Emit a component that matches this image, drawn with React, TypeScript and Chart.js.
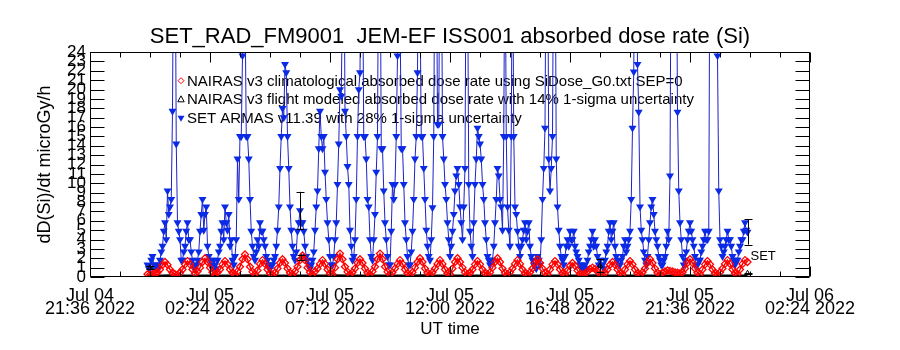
import React, { useEffect, useRef } from 'react';
import { Chart, registerables } from 'chart.js';

Chart.register(...registerables);

const FONT = '"Liberation Sans", Arial, sans-serif';

const TITLE = 'SET_RAD_FM9001  JEM-EF ISS001 absorbed dose rate (Si)';
const X_TITLE = 'UT time';
const Y_TITLE = 'dD(Si)/dt microGy/h';
const LEGEND_LABELS = [
  'NAIRAS v3 climatological absorbed dose rate using SiDose_G0.txt SEP=0',
  'NAIRAS v3 flight modeled absorbed dose rate with 14% 1-sigma uncertainty',
  'SET ARMAS v11.39 with 28% 1-sigma uncertainty',
];
const END_LABEL = 'SET';

// x values: hours since 2022-07-04 00:00 UT
const X_MIN = 21.6;
const X_MAX = 50.4;
const tickHours = [21.6, 26.4, 31.2, 36.0, 40.8, 45.6, 50.4];
const tickDates = ['Jul 04', 'Jul 05', 'Jul 05', 'Jul 05', 'Jul 05', 'Jul 05', 'Jul 06'];
const tickTimes = ['21:36 2022', '02:24 2022', '07:12 2022', '12:00 2022', '16:48 2022', '21:36 2022', '02:24 2022'];
const Y_MIN = 0;
const Y_MAX = 24;

// SET ARMAS v11.39 (microGy/h), 3-minute samples
const armasStartH = 23.9;
const armasStepH = 0.05;
const armasVals = [
  1.3, 0.9, 0.9, 1.8, 2.2, 1.3, 1.3, 0.9, 0.9, 1.3, 1.8, 2.7, 3.3, 4.9, 5.8, 4.0, 9.2, 6.7, 7.5, 8.3,
  17.7, 40, 40, 14.2, 5.8, 4.9, 4.0, 1.8, 1.8, 2.7, 3.3, 4.9, 5.8, 4.0, 4.0, 2.7, 1.8, 1.3, 0.9, 1.3,
  1.8, 2.7, 4.9, 6.7, 8.3, 5.0, 6.7, 7.5, 3.3, 2.2, 1.8, 1.3, 0.9, 1.8, 1.3, 0.9, 1.8, 2.7, 3.3, 4.9,
  5.8, 4.0, 7.5, 5.8, 5.0, 6.7, 3.3, 4.0, 1.8, 1.3, 2.2, 4.0, 12.6, 8.3, 15.0, 15.0, 23.6, 40, 30, 15.0,
  15.0, 12.6, 8.3, 4.9, 3.3, 2.2, 1.8, 2.7, 4.0, 3.3, 5.8, 4.9, 4.9, 4.0, 3.3, 2.2, 1.8, 1.3, 0.9, 1.3,
  1.3, 1.8, 2.2, 3.3, 5.0, 7.5, 11.6, 15.0, 18.0, 17.0, 22.7, 21.8, 15.0, 11.6, 7.5, 5.0, 3.3, 2.2, 1.8, 2.7,
  4.9, 5.8, 7.1, 5.8, 5.8, 4.9, 3.3, 2.2, 1.8, 1.3, 0.9, 1.3, 1.8, 2.7, 5.0, 7.5, 9.2, 13.7, 17.7, 15.0,
  13.7, 15.0, 11.2, 8.3, 5.8, 4.0, 2.2, 1.3, 1.3, 2.2, 4.0, 5.8, 9.9, 14.2, 20.0, 19.3, 30, 40, 17.7, 15.0,
  11.8, 9.9, 5.0, 3.3, 1.8, 2.2, 4.0, 8.3, 15.0, 20.0, 21.8, 40, 35, 15.0, 15.0, 12.6, 8.3, 7.5, 4.0, 2.2,
  1.8, 4.0, 6.7, 11.2, 15.0, 40, 40, 13.7, 13.7, 9.2, 5.8, 4.0, 2.2, 1.3, 1.3, 4.9, 9.9, 8.3, 9.9, 15.0,
  23.6, 40, 30, 13.7, 13.7, 9.9, 5.8, 4.0, 2.2, 1.3, 1.3, 2.7, 4.9, 8.3, 12.6, 15.0, 21.8, 40, 30, 15.0,
  15.0, 11.6, 8.3, 5.0, 3.3, 2.2, 1.8, 4.0, 7.4, 15.0, 40, 40, 16.3, 16.3, 40, 40, 15.0, 12.6, 9.9, 8.3,
  5.8, 4.0, 2.2, 3.3, 4.9, 6.7, 9.2, 10.8, 11.6, 9.9, 7.5, 5.8, 4.0, 7.5, 11.6, 40, 35, 9.9, 4.9, 3.3,
  2.2, 5.8, 9.9, 12.6, 15.9, 15.0, 14.2, 12.6, 9.9, 8.3, 5.8, 4.0, 2.2, 1.8, 1.3, 1.8, 1.8, 3.3, 5.8, 8.3,
  11.6, 10.8, 8.3, 7.5, 5.0, 15.0, 40, 15.0, 7.5, 5.0, 3.3, 15.0, 40, 15.0, 7.5, 6.7, 4.9, 3.3, 2.2, 3.3,
  4.0, 5.0, 5.8, 4.0, 4.9, 5.8, 3.3, 2.2, 1.8, 1.3, 1.3, 0.9, 2.2, 1.8, 1.3, 4.0, 8.3, 11.6, 15.9, 40,
  40, 12.6, 9.2, 11.6, 15.0, 40, 40, 12.6, 7.5, 5.0, 3.3, 2.2, 1.8, 1.3, 2.2, 3.3, 4.0, 3.3, 4.9, 4.0,
  4.0, 4.9, 3.3, 2.7, 2.2, 1.8, 1.3, 0.9, 0.9, 1.3, 1.3, 0.9, 1.8, 2.7, 3.3, 4.0, 4.9, 3.3, 4.0, 3.3,
  2.2, 1.3, 1.8, 1.3, 1.3, 0.9, 1.8, 2.7, 3.3, 4.9, 5.8, 4.0, 4.9, 5.8, 3.3, 2.2, 1.8, 1.3, 1.3, 1.8,
  2.2, 3.3, 4.0, 2.7, 3.3, 4.0, 4.9, 8.3, 15.9, 21.9, 40, 40, 22.7, 17.6, 7.5, 5.0, 4.0, 2.7, 1.8, 1.3,
  2.2, 4.0, 5.8, 7.5, 8.3, 6.7, 4.9, 4.0, 3.3, 2.2, 1.8, 1.3, 1.3, 1.8, 2.2, 3.3, 4.9, 4.0, 10.8, 40,
  40, 40, 40, 40, 17.6, 9.2, 5.8, 4.0, 2.2, 1.3, 1.8, 2.7, 4.0, 4.9, 5.8, 4.9, 4.0, 3.3, 2.2, 1.3,
  1.3, 1.8, 1.8, 2.7, 3.3, 4.0, 4.9, 4.0, 4.0, 4.9, 40, 40, 30, 40, 40, 40, 23.6, 9.2, 4.0, 3.3,
  2.2, 2.7, 3.3, 4.0, 4.9, 4.0, 4.0, 3.3, 2.2, 1.8, 1.3, 1.8, 1.8, 2.7, 3.3, 4.0, 4.0, 4.9, 5.8, 5.0,
  4.8,
];
const armasErrIdx = [122, 480];
const ARMAS_SIGMA = 0.28;

// NAIRAS v3 climatological (microGy/h), 6-minute samples
const climStartH = 23.9;
const climStepH = 0.1;
const nairasClimVals = [
  0.3, 0.25, 0.3, 0.4,
  0.5, 0.8, 1.3, 1.6, 1.3, 0.8, 0.45, 0.3,
  0.25, 0.45, 0.8, 1.35, 1.7, 1.35, 0.8, 0.4,
  0.6, 1.0, 1.6, 2.0, 1.6, 1.0, 0.5, 0.3,
  0.5, 0.8, 1.35, 1.7, 1.35, 0.8, 0.45, 0.3,
  0.6, 1.1, 1.9, 2.4, 1.9, 1.1, 0.55, 0.3,
  0.7, 1.4, 1.8, 1.4, 0.8, 0.4, 0.25,
  0.45, 0.9, 1.5, 1.9, 1.5, 0.9, 0.45, 0.3,
  0.6, 1.1, 1.8, 2.3, 1.8, 1.0, 0.5, 0.3,
  0.6, 0.9, 1.4, 1.8, 1.4, 0.8, 0.4, 0.3,
  1.0, 1.9, 2.5, 1.9, 1.1, 0.55, 0.3,
  0.5, 0.9, 1.5, 1.9, 1.5, 0.9, 0.45, 0.3,
  0.6, 1.1, 1.9, 2.5, 1.9, 1.1, 0.55, 0.3,
  0.5, 0.9, 1.4, 1.8, 1.4, 0.8, 0.4, 0.25,
  0.5, 1.0, 1.6, 2.0, 1.6, 0.9, 0.45, 0.3,
  0.5, 0.9, 1.4, 1.8, 1.4, 0.8, 0.4, 0.3,
  0.9, 1.6, 2.0, 1.6, 1.0, 0.5, 0.3,
  0.45, 0.8, 1.35, 1.7, 1.35, 0.8, 0.4, 0.3,
  0.5, 1.0, 1.6, 2.0, 1.6, 0.9, 0.45, 0.3,
  0.5, 0.9, 1.4, 1.8, 1.4, 0.8, 0.4, 0.3,
  0.5, 0.9, 1.5, 1.9, 1.5, 0.9, 0.45, 0.3,
  0.8, 1.35, 1.7, 1.35, 0.8, 0.4, 0.3,
  0.7, 1.2, 1.5, 1.2, 0.7, 0.35, 0.25,
  0.35, 0.6, 0.85, 1.0, 0.85, 0.6, 0.35, 0.25,
  0.45, 0.8, 1.3, 1.6, 1.3, 0.8, 0.4, 0.3,
  0.8, 1.35, 1.7, 1.35, 0.8, 0.4, 0.3,
  0.5, 0.9, 1.5, 1.9, 1.5, 0.9, 0.45, 0.3,
  0.45, 0.6, 0.7, 0.65, 0.6, 0.5, 0.45, 0.4,
  0.5, 0.9, 1.5, 1.9, 1.5, 0.9, 0.45, 0.3,
  0.8, 1.35, 1.7, 1.35, 0.8, 0.4, 0.3,
  0.5, 0.9, 1.4, 1.8, 1.4, 0.8, 0.4, 0.3,
  0.8, 1.4, 1.8, 1.6,
];

// NAIRAS v3 flight modeled: continuous trace (30 min steps) and sampled points with errors
const flightStartH = 23.9;
const flightStepH = 0.5;
const flightVals = [
  0.1, 0.1, 0.12, 0.1, 0.1, 0.11, 0.1, 0.1, 0.12, 0.1,
  0.1, 0.1, 0.11, 0.1, 0.1, 0.12, 0.1, 0.1, 0.1, 0.11,
  0.1, 0.1, 0.12, 0.1, 0.1, 0.1, 0.11, 0.1, 0.1, 0.12,
  0.1, 0.1, 0.1, 0.11, 0.1, 0.1, 0.12, 0.1, 0.1, 0.1,
  0.11, 0.1, 0.1, 0.12, 0.1, 0.1, 0.1, 0.11, 0.1,
];
const flightSampleH = [24.0, 30.04, 42.0, 47.9];
const flightSampleVals = [1.0, 2.1, 1.2, 0.4];
const flightSampleErr = [0.15, 0.3, 0.7, 0.06];

const RED = '#ff0000';
const BLUE_LINE = '#1c22c8';
const BLUE_PT = '#0a2ae6';

function drawMarker(ctx: CanvasRenderingContext2D, kind: string, x: number, y: number) {
  ctx.beginPath();
  if (kind === 'diamond') {
    ctx.moveTo(x, y - 3); ctx.lineTo(x + 3, y); ctx.lineTo(x, y + 3); ctx.lineTo(x - 3, y); ctx.closePath();
    ctx.strokeStyle = RED; ctx.lineWidth = 1; ctx.stroke();
  } else if (kind === 'tri') {
    ctx.moveTo(x, y - 3.5); ctx.lineTo(x + 3.2, y + 2.5); ctx.lineTo(x - 3.2, y + 2.5); ctx.closePath();
    ctx.strokeStyle = '#000'; ctx.lineWidth = 1; ctx.stroke();
  } else {
    ctx.moveTo(x - 3.5, y - 2.5); ctx.lineTo(x + 3.5, y - 2.5); ctx.lineTo(x, y + 3.5); ctx.closePath();
    ctx.fillStyle = BLUE_PT; ctx.fill();
  }
}

const decorPlugin = {
  id: 'decor',
  beforeDatasetsDraw(chart: any) {
    const { ctx, chartArea: a } = chart;
    ctx.save();
    const kinds = ['diamond', 'tri', 'fill'];
    const rows = [28.7, 47.3, 66.3];
    ctx.font = `15px ${FONT}`;
    ctx.textBaseline = 'middle';
    ctx.textAlign = 'left';
    LEGEND_LABELS.forEach((t, i) => {
      const y = a.top + rows[i];
      drawMarker(ctx, kinds[i], a.left + 91, y);
      ctx.fillStyle = '#000';
      ctx.fillText(t, a.left + 97, y + 1);
    });
    ctx.restore();
  },
  afterDatasetsDraw(chart: any) {
    const { ctx, chartArea: a, scales } = chart;
    const xs = scales.x;
    const ys = scales.y;
    ctx.save();
    ctx.strokeStyle = '#000';
    ctx.lineWidth = 1;
    ctx.beginPath();
    const L = Math.round(a.left) + 0.5;
    const R = Math.round(a.right) - 0.5;
    const T = Math.round(a.top) + 0.5;
    const B = Math.round(a.bottom) - 0.5;
    ctx.rect(L, T, R - L, B - T);
    ys.ticks.forEach((t: any) => {
      const y = Math.round(ys.getPixelForValue(t.value)) + 0.5;
      ctx.moveTo(L, y); ctx.lineTo(L + 14, y);
      ctx.moveTo(R, y); ctx.lineTo(R - 14, y);
    });
    for (let k = 0; k < tickHours.length; k++) {
      const x = Math.round(xs.getPixelForValue(tickHours[k])) + 0.5;
      ctx.moveTo(x, T); ctx.lineTo(x, T + 10);
      ctx.moveTo(x, B); ctx.lineTo(x, B - 10);
      if (k < tickHours.length - 1) {
        for (let m = 1; m < 4; m++) {
          const h = tickHours[k] + (tickHours[k + 1] - tickHours[k]) * m / 4;
          const xm = Math.round(xs.getPixelForValue(h)) + 0.5;
          ctx.moveTo(xm, T); ctx.lineTo(xm, T + 5);
          ctx.moveTo(xm, B); ctx.lineTo(xm, B - 5);
        }
      }
    }
    ctx.stroke();

    // error bars
    const bar = (h: number, v: number, e: number) => {
      const x = Math.round(xs.getPixelForValue(h)) + 0.5;
      const y1 = ys.getPixelForValue(v - e);
      const y2 = ys.getPixelForValue(v + e);
      ctx.moveTo(x, y1); ctx.lineTo(x, y2);
      ctx.moveTo(x - 4, Math.round(y1) + 0.5); ctx.lineTo(x + 4, Math.round(y1) + 0.5);
      ctx.moveTo(x - 4, Math.round(y2) + 0.5); ctx.lineTo(x + 4, Math.round(y2) + 0.5);
    };
    ctx.beginPath();
    flightSampleH.forEach((h, i) => bar(h, flightSampleVals[i], flightSampleErr[i]));
    armasErrIdx.forEach((idx) => {
      const v = armasVals[idx];
      bar(armasStartH + idx * armasStepH, v, v * ARMAS_SIGMA);
    });
    ctx.stroke();

    // end label
    const lastH = armasStartH + (armasVals.length - 1) * armasStepH;
    ctx.font = `13px ${FONT}`;
    ctx.fillStyle = '#000';
    ctx.textBaseline = 'middle';
    ctx.textAlign = 'left';
    ctx.fillText(END_LABEL, xs.getPixelForValue(lastH) + 3, ys.getPixelForValue(2.15));
    ctx.restore();
  },
};

export default function App() {
  const ref = useRef<HTMLCanvasElement>(null);
  useEffect(() => {
    const canvas = ref.current;
    if (!canvas) return;
    const chart = new Chart(canvas, {
      type: 'line',
      data: {
        datasets: [
          {
            label: LEGEND_LABELS[0],
            data: nairasClimVals.map((v, i) => ({ x: climStartH + i * climStepH, y: v })),
            borderColor: RED,
            borderWidth: 1.5,
            pointStyle: 'rectRot',
            pointRadius: 3.5,
            pointBorderColor: RED,
            pointBackgroundColor: 'rgba(255,255,255,0)',
            pointBorderWidth: 1.3,
            fill: false,
          },
          {
            label: 'flight samples',
            data: flightSampleH.map((h, i) => ({ x: h, y: flightSampleVals[i] })),
            showLine: false,
            pointStyle: 'triangle',
            pointRadius: 3,
            pointBorderColor: '#000',
            pointBackgroundColor: 'rgba(255,255,255,0)',
            pointBorderWidth: 1,
          },
          {
            label: LEGEND_LABELS[1],
            data: flightVals.map((v, i) => ({ x: flightStartH + i * flightStepH, y: v })),
            borderColor: '#000',
            borderWidth: 3,
            pointRadius: 0,
            fill: false,
          },
          {
            label: LEGEND_LABELS[2],
            data: armasVals.map((v, i) => ({ x: armasStartH + i * armasStepH, y: v })),
            borderColor: BLUE_LINE,
            borderWidth: 1,
            pointStyle: 'triangle',
            rotation: 180,
            pointRadius: 4.6,
            pointBorderWidth: 0,
            pointBackgroundColor: BLUE_PT,
            pointBorderColor: BLUE_PT,
            fill: false,
          },
        ],
      },
      options: {
        responsive: false,
        animation: false,
        events: [],
        layout: { padding: { left: 0, right: 0, top: 0, bottom: 0 } },
        plugins: {
          legend: { display: false },
          tooltip: { enabled: false },
          title: {
            display: true,
            text: TITLE,
            color: '#000',
            font: { family: FONT, size: 22, weight: 'normal', lineHeight: 1.2 },
            padding: { top: 24, bottom: 1.6 },
          },
        },
        scales: {
          x: {
            type: 'linear',
            min: X_MIN,
            max: X_MAX,
            grid: { display: false, drawTicks: false },
            border: { display: false },
            afterBuildTicks: (s: any) => {
              s.ticks = tickHours.map((value) => ({ value }));
            },
            afterFit: (s: any) => {
              s.height = 73;
            },
            ticks: {
              autoSkip: false,
              maxRotation: 0,
              padding: 12,
              color: '#000',
              font: { family: FONT, size: 18, lineHeight: 0.75 },
              callback: (_v: any, i: number) => [tickDates[i], tickTimes[i]],
            },
            title: {
              display: true,
              text: X_TITLE,
              color: '#000',
              font: { family: FONT, size: 17, lineHeight: 1.2 },
              padding: { top: 0, bottom: 10 },
            },
          },
          y: {
            type: 'linear',
            position: 'left',
            min: Y_MIN,
            max: Y_MAX,
            grid: { display: false, drawTicks: false },
            border: { display: false },
            afterFit: (s: any) => {
              s.width = 90;
            },
            ticks: {
              stepSize: 1,
              autoSkip: false,
              padding: 4,
              color: '#000',
              font: { family: FONT, size: 17 },
            },
            title: {
              display: true,
              text: Y_TITLE,
              color: '#000',
              font: { family: FONT, size: 18, lineHeight: 1.2 },
              padding: { top: 34, bottom: 0 },
            },
          },
          yRight: {
            type: 'linear',
            position: 'right',
            min: Y_MIN,
            max: Y_MAX,
            grid: { display: false, drawTicks: false },
            border: { display: false },
            ticks: { display: false },
            afterFit: (s: any) => {
              s.width = 90;
            },
          },
        },
      },
      plugins: [decorPlugin],
    } as any);
    return () => chart.destroy();
  }, []);
  return (
    <div style={{ position: 'absolute', left: 0, top: 0, width: 900, height: 350, background: '#fff' }}>
      <canvas ref={ref} width={900} height={350} />
    </div>
  );
}
